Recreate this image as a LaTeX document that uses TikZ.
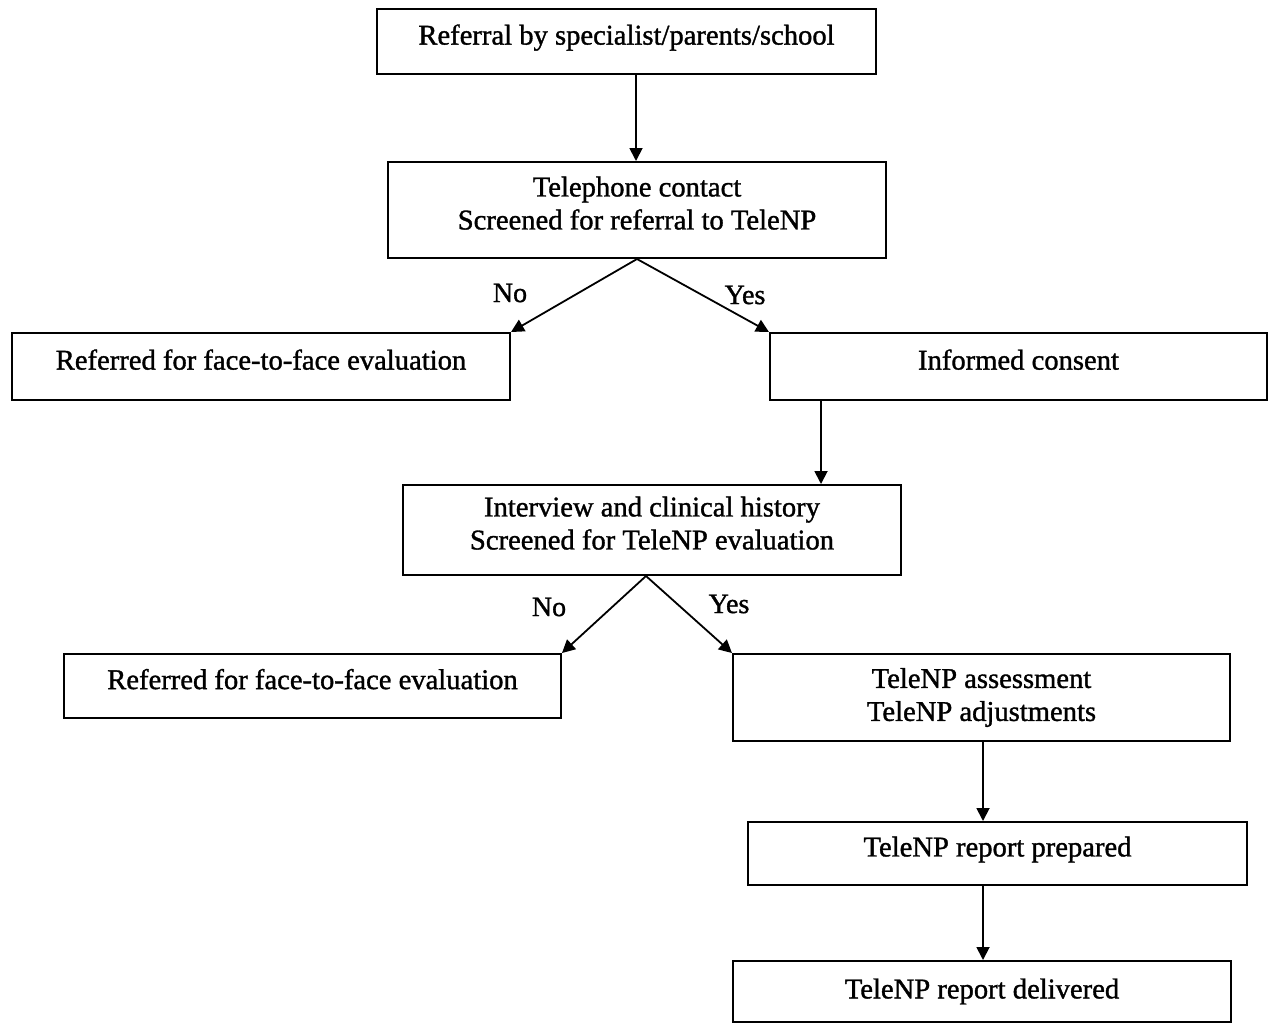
\documentclass[tikz,border=0pt]{standalone}
\usepackage{fontspec}
\setmainfont{Liberation Serif}[BoldFont={Liberation Serif},BoldFeatures={FakeBold=1.2}]
\usetikzlibrary{arrows.meta,calc}
\begin{document}
\begin{tikzpicture}[x=0.5pt,y=-0.5pt,
  box/.style={draw,line width=1pt,rectangle,inner sep=0pt,font=\fontsize{14.3}{16.5}\selectfont\bfseries,align=center},
  up/.style={execute at end node={\rule[-7pt]{0pt}{7pt}}},
  arr/.style={line width=0.9pt,-{Triangle[length=6.5pt,width=6.5pt]}},
  lbl/.style={font=\fontsize{14}{15}\selectfont\bfseries,inner sep=0pt}]
\useasboundingbox (0,0) rectangle (1269,1025);
\node[box,up,minimum width=249.5pt,minimum height=32.5pt] (ref) at (626.5,41.5) {Referral by specialist/parents/school};
\node[box,up,minimum width=249pt,minimum height=48pt] (tel) at (637,210) {Telephone contact\\Screened for referral to TeleNP};
\node[box,up,minimum width=249pt,minimum height=33.5pt] (f1) at (261,366.5) {Referred for face-to-face evaluation};
\node[box,up,minimum width=248.5pt,minimum height=33.5pt] (ic) at (1018.5,366.5) {Informed consent};
\node[box,up,minimum width=249pt,minimum height=45pt] (int) at (652,530) {Interview and clinical history\\Screened for TeleNP evaluation};
\node[box,up,minimum width=248.5pt,minimum height=32pt] (f2) at (312.5,686) {Referred for face-to-face evaluation};
\node[box,minimum width=248.5pt,minimum height=43.5pt] (ta) at (981.5,697.5) {TeleNP assessment\\TeleNP adjustments};
\node[box,up,minimum width=249.5pt,minimum height=31.5pt] (rp) at (997.5,853.5) {TeleNP report prepared};
\node[box,minimum width=249pt,minimum height=30.5pt] (rd) at (982,991.5) {TeleNP report delivered};
\coordinate (xa) at (636,0);
\coordinate (xb) at (821,0);
\coordinate (xc) at (983,0);
\coordinate (xd) at (646,0);
\draw[arr] (ref.south -| xa) -- (tel.north -| xa);
\draw[arr] (tel.south) -- (f1.north east);
\draw[arr] (tel.south) -- (ic.north west);
\draw[arr] (ic.south -| xb) -- (int.north -| xb);
\draw[arr] (int.south -| xd) -- (f2.north east);
\draw[arr] (int.south -| xd) -- (ta.north west);
\draw[arr] (ta.south -| xc) -- (rp.north -| xc);
\draw[arr] (rp.south -| xc) -- (rd.north -| xc);
\node[lbl] (no1) at (510,293) {No};
\node[lbl] (yes1) at (745,295) {Yes};
\node[lbl] (no2) at (549,607) {No};
\node[lbl] (yes2) at (729,604) {Yes};
\end{tikzpicture}
\end{document}
